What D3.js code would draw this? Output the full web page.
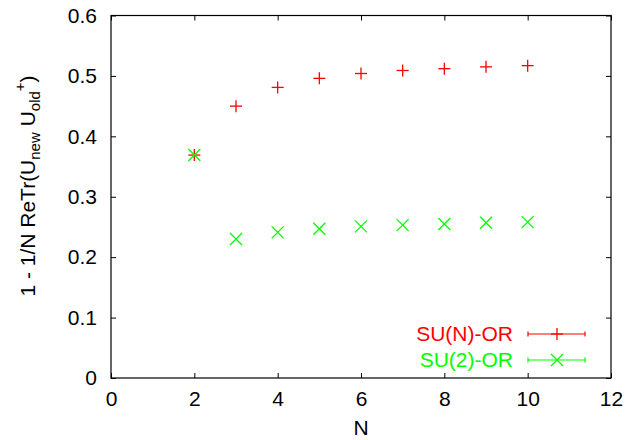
<!DOCTYPE html>
<html><head><meta charset="utf-8">
<script src="https://cdn.jsdelivr.net/npm/d3@7"></script>
<style>body{margin:0;background:#fff}svg{display:block}text{font-family:"Liberation Sans",Arial,sans-serif}</style>
</head><body>
<script>
const nValues = [2,3,4,5,6,7,8,9,10];
const suNValues = [0.369,0.450,0.481,0.496,0.504,0.509,0.512,0.515,0.517];
const su2Values = [0.369,0.230,0.241,0.247,0.251,0.253,0.255,0.257,0.258];
const xTicks = [0,2,4,6,8,10,12];
const yTicks = [0,0.1,0.2,0.3,0.4,0.5,0.6];
const seriesNames = ["SU(N)-OR","SU(2)-OR"];
const seriesColors = ["#ff0000","#00ff00"];

const W=627,H=440;
const svg=d3.select("body").append("svg").attr("width",W).attr("height",H);
const m={l:111,r:611,t:15.5,b:378};
const x=d3.scaleLinear().domain([0,12]).range([m.l,m.r]);
const y=d3.scaleLinear().domain([0,0.6]).range([m.b,m.t]);
const fs=21;

// frame
svg.append("rect").attr("x",m.l).attr("y",m.t).attr("width",m.r-m.l).attr("height",m.b-m.t)
  .attr("fill","none").attr("stroke","#000").attr("stroke-width",1.2);

// axes with inward ticks
const tl=5;
const gx=svg.append("g").attr("transform",`translate(0,${m.b})`)
  .call(d3.axisBottom(x).tickValues(xTicks).tickSizeInner(-tl).tickSizeOuter(0).tickPadding(13).tickFormat(d3.format("d")));
const gxt=svg.append("g").attr("transform",`translate(0,${m.t})`)
  .call(d3.axisTop(x).tickValues(xTicks).tickSizeInner(-tl).tickSizeOuter(0).tickFormat(""));
const gy=svg.append("g").attr("transform",`translate(${m.l},0)`)
  .call(d3.axisLeft(y).tickValues(yTicks).tickSizeInner(-tl).tickSizeOuter(0).tickPadding(14).tickFormat(d=>d===0?"0":d3.format(".1f")(d)));
const gyr=svg.append("g").attr("transform",`translate(${m.r},0)`)
  .call(d3.axisRight(y).tickValues(yTicks).tickSizeInner(-tl).tickSizeOuter(0).tickFormat(""));
[gx,gxt,gy,gyr].forEach(g=>{
  g.select(".domain").remove();
  g.selectAll("line").attr("stroke","#000").attr("stroke-width",1);
  g.selectAll("text").attr("font-size",fs).attr("fill","#000").style("font-family","'Liberation Sans',Arial,sans-serif");
});

// axis labels
svg.append("text").attr("x",x(6)).attr("y",435).attr("text-anchor","middle").attr("font-size",fs).text("N");
const yl=svg.append("text").attr("transform",`translate(35,186) rotate(-90)`).attr("text-anchor","middle").attr("font-size",fs);
yl.append("tspan").text("1 - 1/N ReTr(U");
yl.append("tspan").attr("font-size",15).attr("dy",5).text("new");
yl.append("tspan").attr("dy",-5).text(" U");
yl.append("tspan").attr("font-size",15).attr("dy",5).text("old");
yl.append("tspan").attr("font-size",15).attr("dy",-15).text("+");
yl.append("tspan").attr("dy",10).text(")");

// markers
const s=6;
function plus(g,cx,cy,c){
  g.append("line").attr("x1",cx-s).attr("x2",cx+s).attr("y1",cy).attr("y2",cy).attr("stroke",c).attr("stroke-width",1.3);
  g.append("line").attr("x1",cx).attr("x2",cx).attr("y1",cy-s).attr("y2",cy+s).attr("stroke",c).attr("stroke-width",1.3);
}
function cross(g,cx,cy,c){
  g.append("line").attr("x1",cx-s).attr("x2",cx+s).attr("y1",cy-s).attr("y2",cy+s).attr("stroke",c).attr("stroke-width",1.3);
  g.append("line").attr("x1",cx-s).attr("x2",cx+s).attr("y1",cy+s).attr("y2",cy-s).attr("stroke",c).attr("stroke-width",1.3);
}
const gp=svg.append("g");
nValues.forEach((n,i)=>plus(gp,x(n),y(suNValues[i]),seriesColors[0]));
nValues.forEach((n,i)=>cross(gp,x(n),y(su2Values[i]),seriesColors[1]));

// legend
const lg=svg.append("g");
const legY=[334,360];
[plus,cross].forEach((fn,i)=>{
  const c=seriesColors[i], ly=legY[i];
  lg.append("text").attr("x",513).attr("y",ly).attr("dy","0.35em").attr("text-anchor","end").attr("font-size",fs).attr("fill",c).text(seriesNames[i]);
  lg.append("line").attr("x1",528).attr("x2",585).attr("y1",ly).attr("y2",ly).attr("stroke",c).attr("stroke-width",1.2);
  [528,585].forEach(xx=>lg.append("line").attr("x1",xx).attr("x2",xx).attr("y1",ly-2.5).attr("y2",ly+2.5).attr("stroke",c).attr("stroke-width",1.2));
  fn(lg,557,ly,c);
});
</script>
</body></html>
